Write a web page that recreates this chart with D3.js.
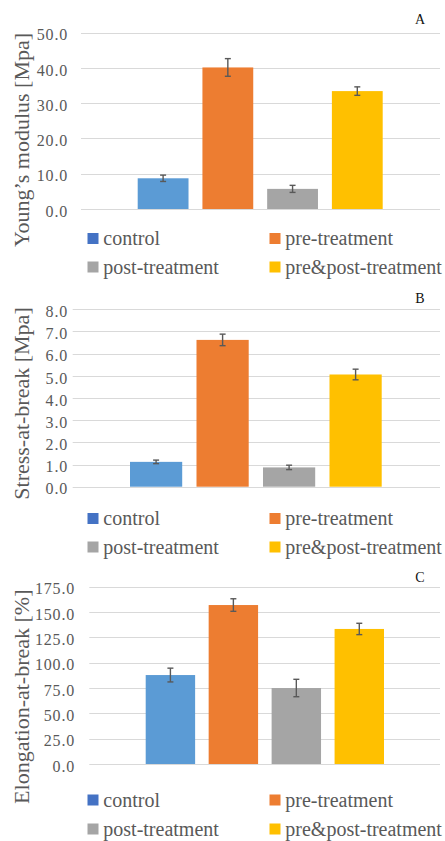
<!DOCTYPE html>
<html>
<head>
<meta charset="utf-8">
<script src="https://cdn.jsdelivr.net/npm/d3@7"></script>
<style>
  body { margin: 0; background: #fff; }
  svg { display: block; }
  svg text { font-family: "Liberation Serif", "Times New Roman", Times, serif !important; }
</style>
</head>
<body>
<div id="chart"></div>
<script>
// data
var groups = ["control", "pre-treatment", "post-treatment", "pre&post-treatment"];

var youngMean = [8.7, 40.1, 5.7, 33.4];
var youngErr = [0.9, 2.5, 1.0, 1.2];
var youngTicks = [0, 10, 20, 30, 40, 50];

var stressMean = [1.12, 6.62, 0.87, 5.06];
var stressErr = [0.08, 0.26, 0.10, 0.24];
var stressTicks = [0, 1, 2, 3, 4, 5, 6, 7, 8];

var elongMean = [87.8, 156.9, 75.0, 133.3];
var elongErr = [6.8, 6.2, 8.6, 5.6];
var elongTicks = [0, 25, 50, 75, 100, 125, 150, 175];

var barColors = ["#5b9bd5", "#ed7d31", "#a5a5a5", "#ffc000"];
var legendColors = ["#4472c4", "#ed7d31", "#a5a5a5", "#ffc000"];

var W = 445, H = 841;
var serif = "\"Liberation Serif\", \"Times New Roman\", Times, serif";

var svg = d3.select("#chart").append("svg")
    .attr("width", W)
    .attr("height", H);

// one Excel-like chart per panel
var panels = [
    {letter: "A", ylabel: "Young\u2019s modulus [Mpa]", mean: youngMean, err: youngErr, ticks: youngTicks,
     yBottom: 209, yTop: 32.5, plotX0: 81, tickRight: 68, barX0: 137.7, barX1: 382.7,
     letterY: 24, labelY: 140, legendY: [238.5, 267]},
    {letter: "B", ylabel: "Stress-at-break [Mpa]", mean: stressMean, err: stressErr, ticks: stressTicks,
     yBottom: 486.7, yTop: 309.3, plotX0: 72.7, tickRight: 68, barX0: 130, barX1: 381.7,
     letterY: 303, labelY: 403.5, legendY: [518.5, 547]},
    {letter: "C", ylabel: "Elongation-at-break [%]", mean: elongMean, err: elongErr, ticks: elongTicks,
     yBottom: 764, yTop: 586.7, plotX0: 89.3, tickRight: 75, barX0: 145.7, barX1: 384,
     letterY: 582, labelY: 696.7, legendY: [800, 829]}
];

var plotX1 = 440;
var textGray = "#595959";

panels.forEach(function(p) {
    var g = svg.append("g");

    var y = d3.scaleLinear()
        .domain([0, d3.max(p.ticks)])
        .range([p.yBottom, p.yTop]);

    var x = d3.scaleBand()
        .domain(groups)
        .range([p.barX0, p.barX1])
        .paddingInner(0.215)
        .paddingOuter(0);

    // gridlines
    g.selectAll(".grid")
        .data(p.ticks)
        .enter().append("line")
            .attr("class", "grid")
            .attr("x1", p.plotX0)
            .attr("x2", plotX1)
            .attr("y1", function(d) { return Math.round(y(d)) + 0.5; })
            .attr("y2", function(d) { return Math.round(y(d)) + 0.5; })
            .attr("stroke", "#d9d9d9")
            .attr("stroke-width", 1);

    // y axis tick labels
    var axis = g.append("g")
        .attr("transform", "translate(" + p.tickRight + ",0)")
        .call(d3.axisLeft(y).tickValues(p.ticks).tickSize(0).tickPadding(0).tickFormat(d3.format(".1f")))
        .attr("font-family", serif)
        .attr("font-size", 16);
    axis.select(".domain").remove();
    axis.selectAll("text")
        .attr("dy", "0.45em")
        .attr("font-family", serif)
        .style("letter-spacing", "0.8px")
        .attr("fill", textGray);

    // bars
    g.selectAll(".bar")
        .data(groups)
        .enter().append("rect")
            .attr("class", "bar")
            .attr("x", function(d) { return x(d); })
            .attr("width", x.bandwidth())
            .attr("y", function(d, i) { return y(p.mean[i]); })
            .attr("height", function(d, i) { return y(0) - y(p.mean[i]); })
            .attr("fill", function(d, i) { return barColors[i]; });

    // error bars
    var eb = g.selectAll(".err")
        .data(groups)
        .enter().append("g")
            .attr("class", "err")
            .attr("stroke", "#595959")
            .attr("stroke-width", 1.4);
    eb.append("line")
        .attr("x1", function(d) { return x(d) + x.bandwidth() / 2; })
        .attr("x2", function(d) { return x(d) + x.bandwidth() / 2; })
        .attr("y1", function(d, i) { return y(p.mean[i] + p.err[i]); })
        .attr("y2", function(d, i) { return y(p.mean[i] - p.err[i]); });
    eb.append("line")
        .attr("x1", function(d) { return x(d) + x.bandwidth() / 2 - 3; })
        .attr("x2", function(d) { return x(d) + x.bandwidth() / 2 + 3; })
        .attr("y1", function(d, i) { return y(p.mean[i] + p.err[i]); })
        .attr("y2", function(d, i) { return y(p.mean[i] + p.err[i]); });
    eb.append("line")
        .attr("x1", function(d) { return x(d) + x.bandwidth() / 2 - 3; })
        .attr("x2", function(d) { return x(d) + x.bandwidth() / 2 + 3; })
        .attr("y1", function(d, i) { return y(p.mean[i] - p.err[i]); })
        .attr("y2", function(d, i) { return y(p.mean[i] - p.err[i]); });

    // panel letter
    g.append("text")
        .attr("x", 420)
        .attr("y", p.letterY)
        .attr("text-anchor", "middle")
        .attr("font-family", serif)
        .attr("font-size", 14)
        .attr("fill", "#111")
        .text(p.letter);

    // y axis title
    g.append("text")
        .attr("transform", "translate(21," + p.labelY + ") rotate(-90)")
        .attr("text-anchor", "middle")
        .attr("dy", "0.35em")
        .attr("font-family", serif)
        .attr("font-size", 22)
        .attr("fill", textGray)
        .text(p.ylabel);

    // legend, two columns x two rows
    var legend = g.selectAll(".legend")
        .data(groups)
        .enter().append("g")
            .attr("class", "legend")
            .attr("transform", function(d, i) {
                return "translate(" + (i % 2 === 0 ? 87.5 : 269.5) + "," + p.legendY[Math.floor(i / 2)] + ")";
            });
    legend.append("rect")
        .attr("x", 0)
        .attr("y", -5.5)
        .attr("width", 11)
        .attr("height", 11)
        .attr("fill", function(d, i) { return legendColors[i]; });
    legend.append("text")
        .attr("x", 15.8)
        .attr("y", 6.5)
        .attr("font-family", serif)
        .attr("font-size", 20)
        .attr("fill", textGray)
        .text(function(d) { return d; });
});
</script>
</body>
</html>
